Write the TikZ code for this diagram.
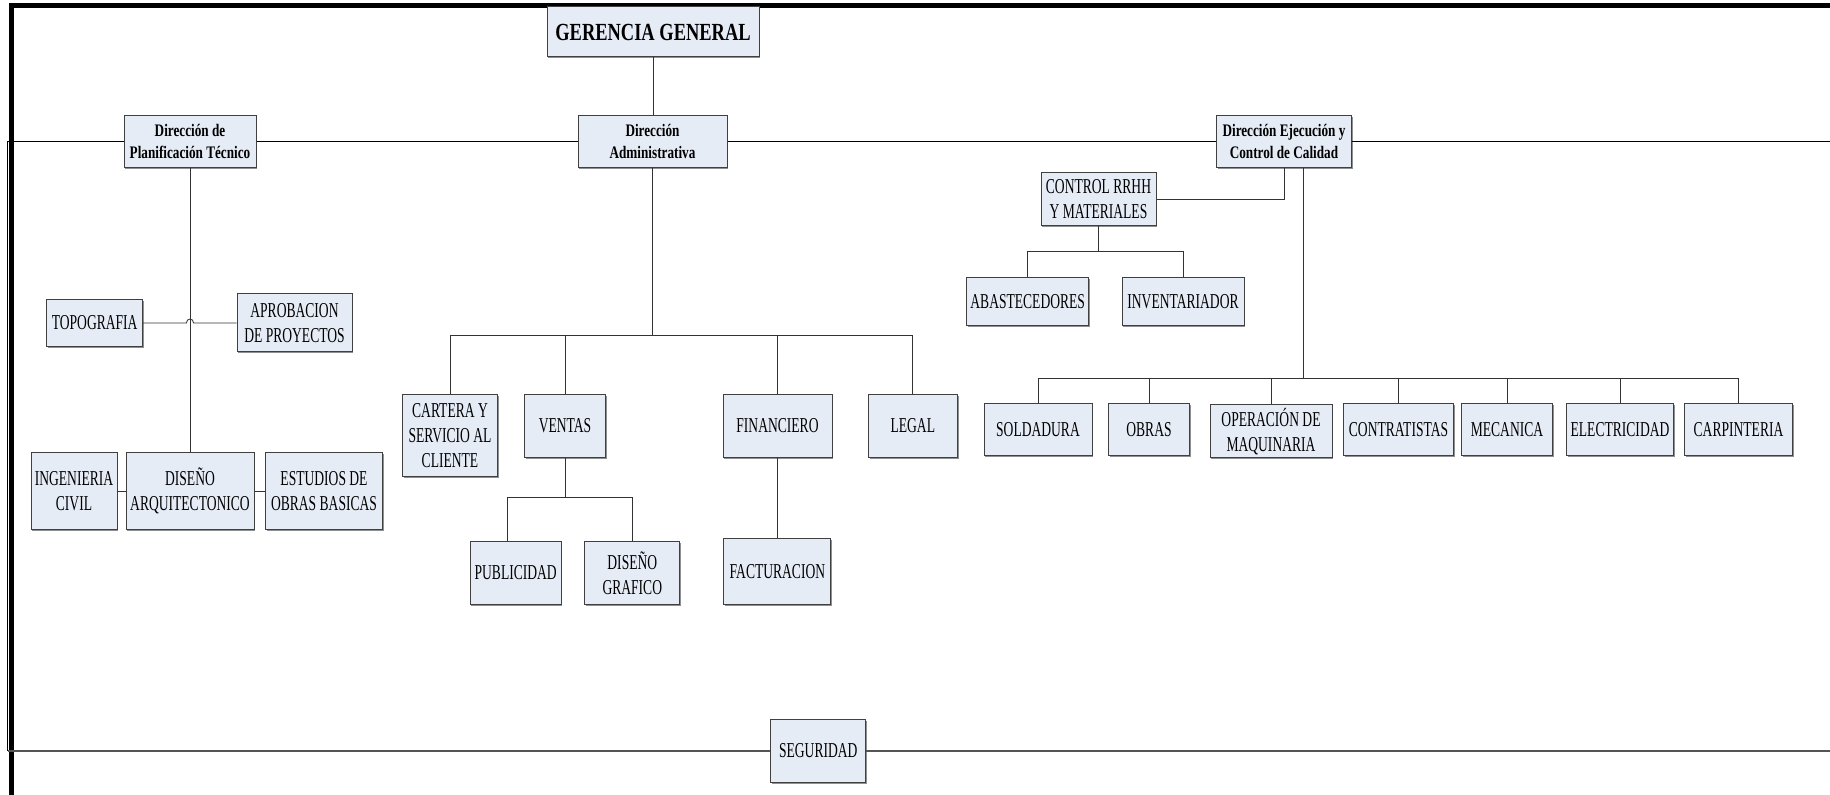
\documentclass[tikz,border=0pt]{standalone}
\usepackage{fontspec}
\setmainfont{Liberation Serif}[FakeStretch=0.64]
\newfontfamily\dirfont{Liberation Serif}[FakeStretch=0.75]
\usetikzlibrary{shadows}
\definecolor{boxfill}{RGB}{230,236,246}
\definecolor{busgray}{RGB}{85,85,85}

\begin{document}
\begin{tikzpicture}[x=0.5pt,y=-0.5pt,
  unit/.style={draw=black!75, line width=0.5pt, fill=boxfill, inner sep=0pt, align=center,
    font=\fontsize{10.6}{12.5}\selectfont,
    drop shadow={shadow xshift=0.6pt,shadow yshift=-0.6pt,opacity=0.8,fill=black!55}},
  dir/.style={unit, font=\dirfont\bfseries\fontsize{8.8}{11.3}\selectfont},
  sz/.style 2 args={minimum width=#1*0.5pt, minimum height=#2*0.5pt},
  link/.style={draw=black!80, line width=0.42pt},
  rail/.style={line width=0.9pt}]

\useasboundingbox (0,0) rectangle (1830,795);

% outer frame (left and top edges)
\draw[line width=2.5pt] (11.5,795) -- (11.5,5.8) -- (1830,5.8);

% ---- management ----
\node[dir, sz={212}{50}, font=\dirfont\bfseries\fontsize{12.3}{14}\selectfont] (ger) at (653,32) {GERENCIA GENERAL};
\node[dir, sz={132}{52}] (plan) at (190,141.5) {Dirección de\\Planificación Técnico};
\node[dir, sz={149}{52}] (adm) at (652.5,141.5) {Dirección\\Administrativa};
\node[dir, sz={135}{52}] (eje) at (1284,141.5) {Dirección Ejecución y\\Control de Calidad};

% ---- planning branch ----
\node[unit, sz={96}{47}] (topo) at (94.7,323) {TOPOGRAFIA};
\node[unit, sz={115}{58}] (apro) at (294.5,323) {APROBACION\\DE PROYECTOS};
\node[unit, sz={86}{77}] (ing) at (74,491) {INGENIERIA\\CIVIL};
\node[unit, sz={128}{77}] (dis) at (190,491) {DISEÑO\\ARQUITECTONICO};
\node[unit, sz={117}{77}] (est) at (324,491) {ESTUDIOS DE\\OBRAS BASICAS};

% ---- administrative branch ----
\node[unit, sz={95}{82}] (cart) at (450,436) {CARTERA Y\\SERVICIO AL\\CLIENTE};
\node[unit, sz={81}{63}] (ven) at (565,426) {VENTAS};
\node[unit, sz={109}{63}] (fin) at (777.5,426) {FINANCIERO};
\node[unit, sz={89}{63}] (leg) at (912.8,426) {LEGAL};
\node[unit, sz={91}{63}] (pub) at (515.7,573) {PUBLICIDAD};
\node[unit, sz={95}{63}] (dg) at (632.3,573) {DISEÑO\\GRAFICO};
\node[unit, sz={107}{66}] (fac) at (777.4,572) {FACTURACION};

% ---- execution branch ----
\node[unit, sz={115}{53}] (ctrl) at (1098.5,199) {CONTROL RRHH\\Y MATERIALES};
\node[unit, sz={122}{48}] (aba) at (1027.7,302) {ABASTECEDORES};
\node[unit, sz={122}{48}] (inv) at (1183,302) {INVENTARIADOR};
\node[unit, sz={108}{52}] (sol) at (1038,430) {SOLDADURA};
\node[unit, sz={81}{52}] (obr) at (1149,430) {OBRAS};
\node[unit, sz={122}{53}] (ope) at (1271,431.5) {OPERACIÓN DE\\MAQUINARIA};
\node[unit, sz={110}{52}] (con) at (1398.5,430) {CONTRATISTAS};
\node[unit, sz={91}{52}] (mec) at (1507,430) {MECANICA};
\node[unit, sz={107}{52}] (ele) at (1620,430) {ELECTRICIDAD};
\node[unit, sz={108}{52}] (car) at (1738.5,430) {CARPINTERIA};

% ---- security ----
\node[unit, sz={95}{63}] (seg) at (818.3,751) {SEGURIDAD};

% ---- rails ----
\coordinate (railL) at (7.5,141.5);
\coordinate (railR) at (1830,141.5);
\coordinate (baseL) at (7.5,751);
\coordinate (baseR) at (1830,751);
\draw[rail] (railL) -- (plan.west) (plan.east) -- (adm.west)
            (adm.east) -- (eje.west) (eje.east) -- (railR);
\draw[line width=0.5pt] (railL) -- (baseL);
\draw[rail, busgray] (baseL) -- (seg.west) (seg.east) -- (baseR);

\draw[link] (ger.south) -- (ger.south |- adm.north);

% planning connectors
\draw[link] (plan.south) -- (plan.south |- dis.north);
\coordinate (hop) at (plan.south |- topo.east);
\draw[link] (topo.east) -- ([xshift=-1.8pt]hop)
  .. controls ([xshift=-1.8pt,yshift=2.6pt]hop) and ([xshift=1.8pt,yshift=2.6pt]hop) ..
  ([xshift=1.8pt]hop) -- (apro.west);
\draw[link] (ing.east) -- (dis.west) (dis.east) -- (est.west);

% administrative connectors
\coordinate (ab) at (652.5,335.7);
\draw[link] (adm.south) -- (adm.south |- ab);
\draw[link] (cart.north |- ab) -- (leg.north |- ab);
\foreach \n in {cart,ven,fin,leg} \draw[link] (\n.north |- ab) -- (\n.north);
\coordinate (vb) at (565,497);
\coordinate (pbx) at (507.5,497);
\draw[link] (ven.south) -- (ven.south |- vb);
\draw[link] (pbx) -- (dg.north |- vb);
\draw[link] (pbx) -- (pbx |- pub.north);
\draw[link] (dg.north |- vb) -- (dg.north);
\draw[link] (fin.south) -- (fin.south |- fac.north);

% execution connectors
\draw[link] (eje.south) |- (ctrl.east);
\coordinate (cb) at (1098,251.3);
\draw[link] (ctrl.south) -- (ctrl.south |- cb);
\draw[link] (aba.north |- cb) -- (inv.north |- cb);
\foreach \n in {aba,inv} \draw[link] (\n.north |- cb) -- (\n.north);
\coordinate (eb) at (1303,378.3);
\draw[link] (eb |- eje.south) -- (eb);
\draw[link] (sol.north |- eb) -- (car.north |- eb);
\foreach \n in {sol,obr,ope,con,mec,ele,car} \draw[link] (\n.north |- eb) -- (\n.north);

\end{tikzpicture}
\end{document}
